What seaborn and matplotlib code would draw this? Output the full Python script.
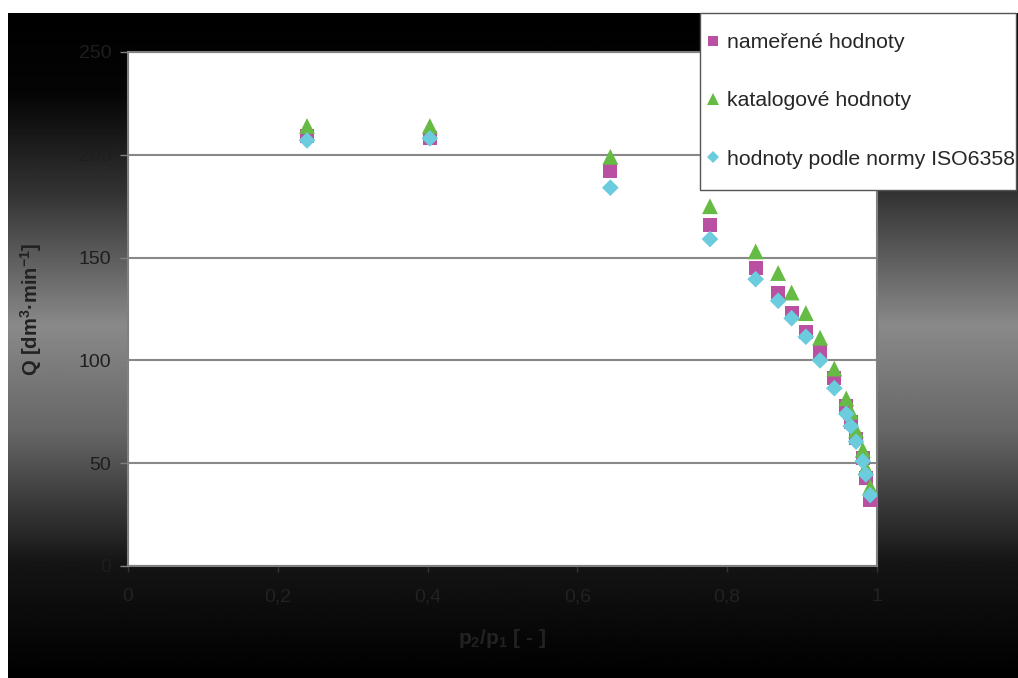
import numpy as np
import pandas as pd
import matplotlib
matplotlib.use("Agg")
import matplotlib.pyplot as plt
import seaborn as sns
from matplotlib.patches import Rectangle

# data
pressure_ratio = [0.239, 0.403, 0.644, 0.777, 0.838, 0.868, 0.886, 0.905,
                  0.924, 0.943, 0.959, 0.965, 0.972, 0.981, 0.985, 0.991]
q_measured = [209, 208, 192, 166, 145, 133, 123, 114, 104, 91.5, 78, 70, 62, 52.5, 43, 32]
q_catalog = [214, 214, 199, 175, 153, 142.5, 133, 123, 111, 96, 81.5, 75, 66, 56.5, 48, 38.5]
q_iso = [207, 208, 184, 159, 139.5, 129, 120.5, 111.5, 100, 86.5, 74, 68, 60.5, 51, 44.5, 34.5]

series_names = ["nameřené hodnoty", "katalogové hodnoty", "hodnoty podle normy ISO6358"]
series_values = [q_measured, q_catalog, q_iso]

df = pd.concat([
    pd.DataFrame({"p": pressure_ratio, "Q": vals, "serie": name})
    for name, vals in zip(series_names, series_values)
], ignore_index=True)

sns.set_theme(style="white")
plt.rcParams["font.family"] = ["Liberation Sans", "DejaVu Sans"]
plt.rcParams["mathtext.default"] = "regular"

W, H = 1018, 678
fig = plt.figure(figsize=(W / 100, H / 100), dpi=100)
fig.patch.set_facecolor("white")

# dark gradient background behind the plot area
bg = fig.add_axes([8 / W, 0, 1010 / W, 665 / H], zorder=-10)
t = np.linspace(0, 1, 400)
shade = np.interp(t, [0, 0.12, 0.27, 0.47, 0.63, 0.83, 1], [0, 0.02, 0.2, 0.54, 0.4, 0.08, 0])
bg.imshow(shade[:, None], cmap="gray", vmin=0, vmax=1, aspect="auto",
          extent=[0, 1, 0, 1], origin="upper")
bg.set_axis_off()

ax = fig.add_axes([128 / W, 1 - 566 / H, 749 / W, 514 / H])
ax.set_facecolor("white")

palette = {series_names[0]: "#BA50A2", series_names[1]: "#66BB44", series_names[2]: "#6ACCDC"}
markers = {series_names[0]: "s", series_names[1]: "^", series_names[2]: "D"}
sizes = {series_names[0]: 100, series_names[1]: 130, series_names[2]: 72}

sns.scatterplot(data=df, x="p", y="Q", hue="serie", style="serie", size="serie",
                palette=palette, markers=markers, sizes=sizes, linewidth=0,
                ax=ax, legend=True, zorder=3)

ax.set_xlim(0, 1)
ax.set_ylim(0, 250)
ax.set_xticks(np.arange(0, 1.01, 0.2))
ax.set_xticklabels(["0", "0,2", "0,4", "0,6", "0,8", "1"])
ax.set_yticks(np.arange(0, 251, 50))
ax.yaxis.grid(True, color="#888888", linewidth=1.5)
ax.xaxis.grid(False)
for sp in ax.spines.values():
    sp.set_color("#808080")
    sp.set_linewidth(1.5)

ax.tick_params(axis="y", direction="out", length=6, width=1, color="#808080",
               labelsize=14, labelcolor="#1e1e1e", pad=6, left=True)
ax.tick_params(axis="x", direction="out", length=4, width=1, color="#333333",
               labelsize=14, labelcolor="#222222", pad=12, bottom=True)

ax.set_xlabel("p$_2$/p$_1$ [ - ]", fontsize=15, fontweight="bold", color="#222222", labelpad=16)
ax.set_ylabel("Q [dm$^3$·min$^{-1}$]", fontsize=14.5, fontweight="bold", color="#222222", labelpad=25)

# legend box (frame drawn separately to match the reference box)
fig.patches.append(Rectangle((700 / W, 1 - 190 / H), 316 / W, 177 / H,
                             transform=fig.transFigure, facecolor="white",
                             edgecolor="#555555", linewidth=1, zorder=5))
handles, labels = ax.get_legend_handles_labels()
ax.get_legend().remove()
leg = fig.legend(handles, labels, loc="center left",
                 bbox_to_anchor=(700 / W, 1 - 101 / H),
                 borderaxespad=0, fontsize=15.3, labelspacing=1.85,
                 handletextpad=0.3, handlelength=0.7, borderpad=0.25,
                 frameon=False, markerscale=0.75)
leg.set_zorder(6)

fig.savefig("out.png", dpi=100, facecolor="white")
